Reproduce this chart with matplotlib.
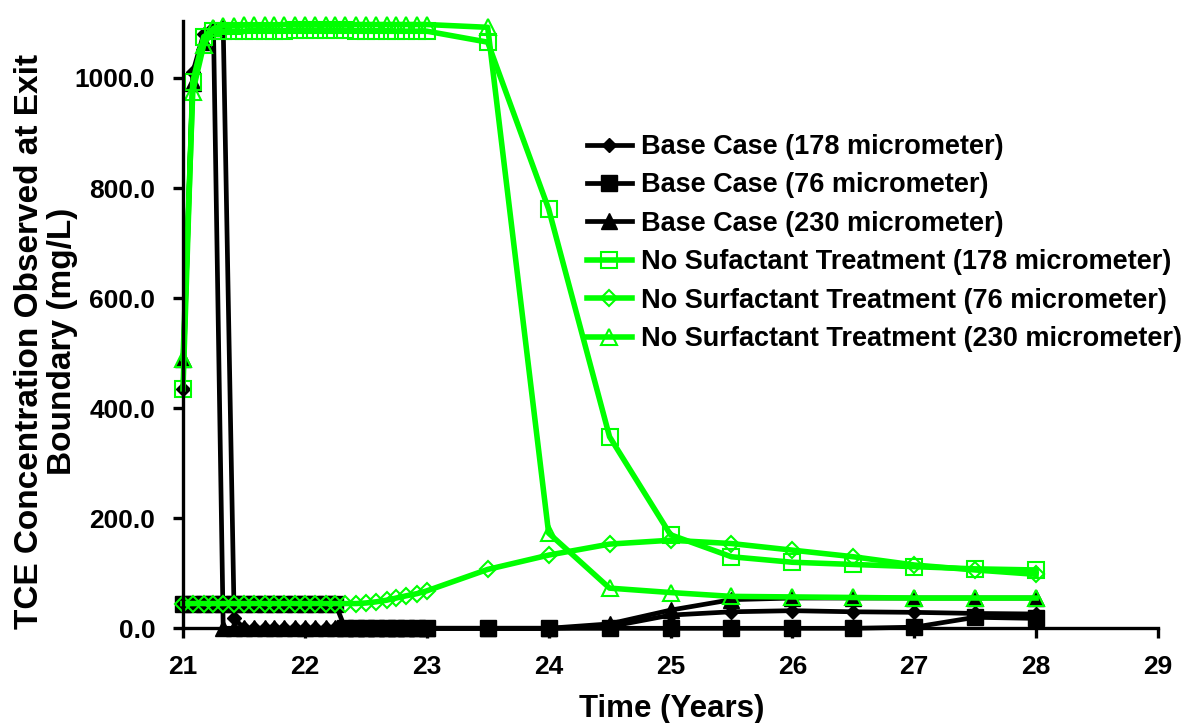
import matplotlib
matplotlib.use("Agg")
import matplotlib.pyplot as plt
from matplotlib.ticker import FormatStrFormatter

plt.rcParams['font.family'] = ['Liberation Sans', 'DejaVu Sans']
plt.rcParams['font.weight'] = 'bold'

# time axis (years): monthly steps 21-23, then half-yearly
years = [21.00, 21.08, 21.17, 21.25, 21.33, 21.42, 21.50, 21.58, 21.67, 21.75,
         21.83, 21.92, 22.00, 22.08, 22.17, 22.25, 22.33, 22.42, 22.50, 22.58,
         22.67, 22.75, 22.83, 22.92, 23.00,
         23.5, 24.0, 24.5, 25.0, 25.5, 26.0, 26.5, 27.0, 27.5, 28.0]

# TCE concentration (mg/L)
base_178 = [435, 1010, 1080, 1090, 1092, 18, 0, 0, 0, 0,
            0, 0, 0, 0, 0, 0, 0, 0, 0, 0,
            0, 0, 0, 0, 0,
            0, 0, 3, 24, 30, 32, 30, 29, 27, 26]
base_76 = [45, 45, 45, 45, 45, 45, 45, 45, 45, 45,
           45, 45, 45, 45, 45, 45, 0, 0, 0, 0,
           0, 0, 0, 0, 0,
           0, 0, 0, 0, 0, 0, 0, 2, 20, 18]
base_230 = [490, 990, 1065, 1090, 0, 0, 0, 0, 0, 0,
            0, 0, 0, 0, 0, 0, 0, 0, 0, 0,
            0, 0, 0, 0, 0,
            0, 0, 8, 33, 52, 55, 55, 55, 55, 55]
nosurf_178 = [435, 993, 1075, 1085, 1085, 1085, 1085, 1086, 1086, 1086,
              1086, 1087, 1087, 1087, 1087, 1087, 1087, 1086, 1086, 1086,
              1086, 1085, 1085, 1085, 1085,
              1065, 762, 348, 170, 130, 120, 116, 112, 108, 106]
nosurf_76 = [45, 45, 45, 45, 45, 45, 45, 45, 45, 45,
             45, 45, 45, 45, 45, 45, 45, 45, 46, 48,
             51, 55, 59, 63, 68,
             107, 133, 153, 160, 154, 142, 130, 115, 106, 98]
nosurf_230 = [490, 975, 1060, 1090, 1095, 1095, 1096, 1096, 1096, 1096,
              1097, 1097, 1097, 1097, 1097, 1097, 1097, 1097, 1097, 1097,
              1097, 1097, 1097, 1097, 1097,
              1092, 173, 73, 65, 58, 57, 56, 55, 55, 55]

labels = ['Base Case (178 micrometer)',
          'Base Case (76 micrometer)',
          'Base Case (230 micrometer)',
          'No Sufactant Treatment (178 micrometer)',
          'No Surfactant Treatment (76 micrometer)',
          'No Surfactant Treatment (230 micrometer)']

green = '#00FF00'

fig = plt.figure(figsize=(11.91, 7.23), dpi=100)
ax = fig.add_axes([183/1191, 1 - 628.3/723, (1158 - 183)/1191, (628.3 - 20.7)/723])

# base case series (black, filled markers)
ax.plot(years, base_178, color='black', lw=3.4, marker='D', ms=7, mfc='black', mec='black', label=labels[0], clip_on=False)
ax.plot(years, base_76, color='black', lw=3.4, marker='s', ms=11.5, mfc='black', mec='black', label=labels[1], clip_on=False)
ax.plot(years, base_230, color='black', lw=3.4, marker='^', ms=11, mfc='black', mec='black', label=labels[2], clip_on=False)

# no surfactant series (green, open markers)
ax.plot(years, nosurf_178, color=green, lw=4, marker='s', ms=11.5, mfc='none', mec=green, mew=1.5, label=labels[3], clip_on=False)
ax.plot(years, nosurf_76, color=green, lw=4, marker='D', ms=7.7, mfc='none', mec=green, mew=1.5, label=labels[4], clip_on=False)
ax.plot(years, nosurf_230, color=green, lw=4, marker='^', ms=11.5, mfc='none', mec=green, mew=1.5, label=labels[5], clip_on=False)

ax.set_xlim(21, 29)
ax.set_ylim(0, 1104)
ax.set_xticks(range(21, 30))
ax.set_yticks(range(0, 1001, 200))
ax.yaxis.set_major_formatter(FormatStrFormatter('%.1f'))

for side in ['top', 'right']:
    ax.spines[side].set_visible(False)
for side in ['left', 'bottom']:
    ax.spines[side].set_linewidth(2.4)
ax.tick_params(direction='out', length=7, width=2.4, labelsize=19)
ax.tick_params(axis='x', pad=12)
ax.tick_params(axis='y', pad=13)

fig.text(46/1191, 1 - 341/723, 'TCE Concentration Observed at Exit\nBoundary (mg/L)',
         rotation=90, ha='center', va='center', multialignment='center',
         fontsize=24, fontweight='bold', linespacing=1.1)
fig.text(672/1191, 1 - 709/723, 'Time (Years)', ha='center', va='center',
         fontsize=22.5, fontweight='bold')

leg = ax.legend(loc='upper left', bbox_to_anchor=(587/1191, 1 - 134/723),
                bbox_transform=fig.transFigure, frameon=False, fontsize=19.5,
                handlelength=1.65, handletextpad=0.33, labelspacing=0.46,
                borderpad=0, borderaxespad=0)

fig.savefig('out.png', dpi=100)
